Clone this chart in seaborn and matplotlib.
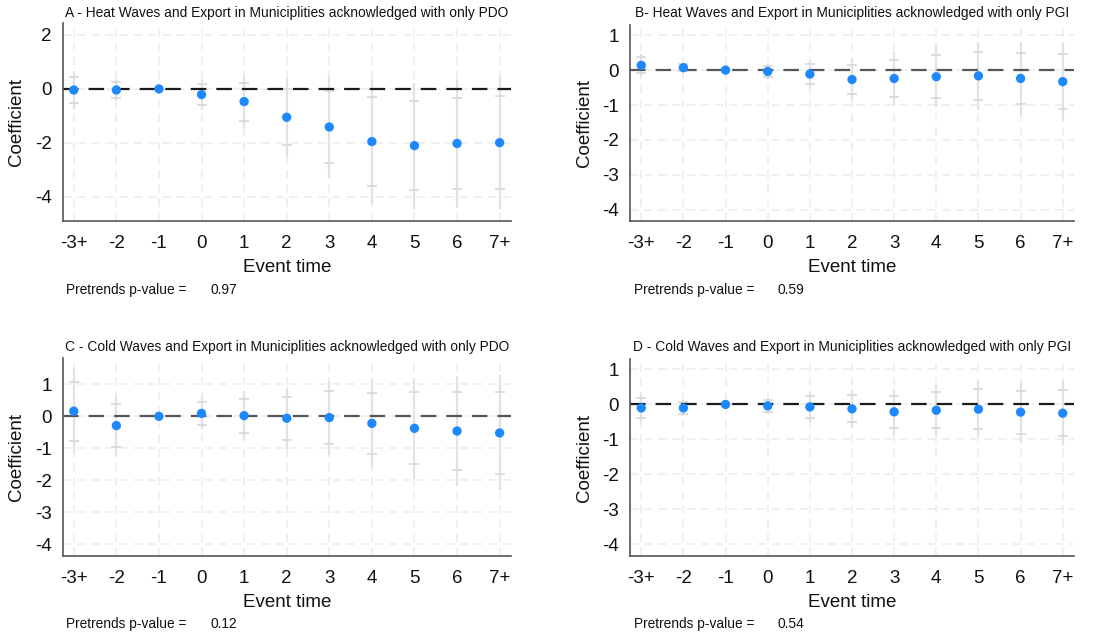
import numpy as np
import pandas as pd
import matplotlib
matplotlib.use("Agg")
import matplotlib.pyplot as plt
import seaborn as sns

# event-study coefficients
event_labels = ['-3+', '-2', '-1', '0', '1', '2', '3', '4', '5', '6', '7+']

coef_a = [-0.04, -0.04, 0.0, -0.21, -0.47, -1.05, -1.41, -1.95, -2.10, -2.02, -1.99]
se_a = [0.30, 0.17, 0.0, 0.24, 0.43, 0.63, 0.81, 1.00, 1.00, 1.02, 1.05]

coef_b = [0.135, 0.07, 0.0, -0.04, -0.115, -0.27, -0.24, -0.19, -0.165, -0.24, -0.33]
se_b = [0.14, 0.06, 0.0, 0.09, 0.175, 0.25, 0.325, 0.375, 0.415, 0.445, 0.48]

coef_c = [0.16, -0.29, 0.0, 0.09, 0.02, -0.06, -0.04, -0.22, -0.375, -0.46, -0.52]
se_c = [0.56, 0.405, 0.0, 0.215, 0.325, 0.41, 0.495, 0.585, 0.68, 0.735, 0.77]

coef_d = [-0.10, -0.10, 0.0, -0.04, -0.07, -0.125, -0.21, -0.165, -0.135, -0.22, -0.25]
se_d = [0.18, 0.10, 0.0, 0.10, 0.19, 0.235, 0.28, 0.315, 0.345, 0.375, 0.395]

titles = ['A - Heat Waves and Export in Municiplities acknowledged with only PDO',
          'B- Heat Waves and Export in Municiplities acknowledged with only PGI',
          'C - Cold Waves and Export in Municiplities acknowledged with only PDO',
          'D - Cold Waves and Export in Municiplities acknowledged with only PGI']
pretrend_p = [0.97, 0.59, 0.12, 0.54]

z_inner = 1.645
z_outer = 2.33

W, H = 1109, 636
sns.set_style('white')
plt.rcParams['font.family'] = ['Liberation Sans', 'DejaVu Sans']

fig = plt.figure(figsize=(W / 100, H / 100), dpi=100)


def px_axes(left, top, right, bottom):
    return [left / W, 1 - bottom / H, (right - left) / W, (bottom - top) / H]


panels = [
    dict(coef=coef_a, se=se_a, box=(62.7, 23.3, 510.7, 220.7), ylim=(-4.88, 2.43),
         yticks=[-4, -2, 0, 2], zcol='#1a1a1a', title_y=13.3, p_y=290),
    dict(coef=coef_b, se=se_b, box=(630.3, 25.0, 1073.7, 220.7), ylim=(-4.31, 1.29),
         yticks=[-4, -3, -2, -1, 0, 1], zcol='#555555', title_y=13.3, p_y=290),
    dict(coef=coef_c, se=se_c, box=(62.7, 358.3, 510.7, 555.7), ylim=(-4.35, 1.81),
         yticks=[-4, -3, -2, -1, 0, 1], zcol='#555555', title_y=347.3, p_y=624),
    dict(coef=coef_d, se=se_d, box=(630.3, 359.3, 1073.7, 555.7), ylim=(-4.32, 1.29),
         yticks=[-4, -3, -2, -1, 0, 1], zcol='#1a1a1a', title_y=347.3, p_y=624),
]

for i, p in enumerate(panels):
    left, top, right, bottom = p['box']
    ax = fig.add_axes(px_axes(left, top, right, bottom))
    df = pd.DataFrame({'pos': np.arange(len(event_labels)),
                       'coef': p['coef'], 'se': p['se']})
    df['lo_in'] = df['coef'] - z_inner * df['se']
    df['hi_in'] = df['coef'] + z_inner * df['se']
    df['lo_out'] = df['coef'] - z_outer * df['se']
    df['hi_out'] = df['coef'] + z_outer * df['se']

    for y in p['yticks']:
        ax.axhline(y, color='#ededed', lw=1.2, ls=(0, (5, 3.5)), zorder=0)
    for x in df['pos']:
        ax.axvline(x, color='#ededed', lw=1.2, ls=(0, (5, 3.5)), zorder=0)

    ci = df[df['se'] > 0]
    ax.vlines(ci['pos'], ci['lo_out'], ci['hi_out'], color='#e2e2e2', lw=1.6, zorder=1)
    ax.scatter(ci['pos'], ci['lo_in'], marker='_', s=50, color='#d8d8d8', lw=1.2, zorder=1)
    ax.scatter(ci['pos'], ci['hi_in'], marker='_', s=50, color='#d8d8d8', lw=1.2, zorder=1)

    ax.axhline(0, color=p['zcol'], lw=1.6, ls=(0, (7, 4.5)), zorder=2)
    sns.scatterplot(data=df, x='pos', y='coef', ax=ax, color='#1e88ff', s=45,
                    edgecolor='none', zorder=3, legend=False)

    ax.set_xlim(-0.26, 10.26)
    ax.set_ylim(*p['ylim'])
    ax.set_xticks(df['pos'])
    ax.set_xticklabels(event_labels)
    ax.set_yticks(p['yticks'])
    ax.set_yticklabels([str(t) for t in p['yticks']])
    ax.tick_params(axis='both', labelsize=13.5, length=4, width=1, color='#555555',
                   direction='out', pad=4, labelcolor='#111111')
    ax.tick_params(axis='x', pad=6)
    ax.set_xlabel('Event time', fontsize=13.5, labelpad=5, color='#111111')
    ax.set_ylabel('Coefficient', fontsize=13.5, labelpad=7, color='#111111')
    for s in ['top', 'right']:
        ax.spines[s].set_visible(False)
    for s in ['left', 'bottom']:
        ax.spines[s].set_color('#555555')
        ax.spines[s].set_linewidth(1.2)

    fig.text((left + right) / 2 / W, 1 - p['title_y'] / H, titles[i],
             ha='center', va='center', fontsize=9.9, color='#111111')
    fig.text((left + 3.5) / W, 1 - p['p_y'] / H, 'Pretrends p-value =',
             ha='left', va='center', fontsize=9.9, color='#111111')
    fig.text((left + 147.5) / W, 1 - p['p_y'] / H, f'{pretrend_p[i]:.2f}',
             ha='left', va='center', fontsize=9.9, color='#111111')

fig.savefig('out.png', dpi=100)
